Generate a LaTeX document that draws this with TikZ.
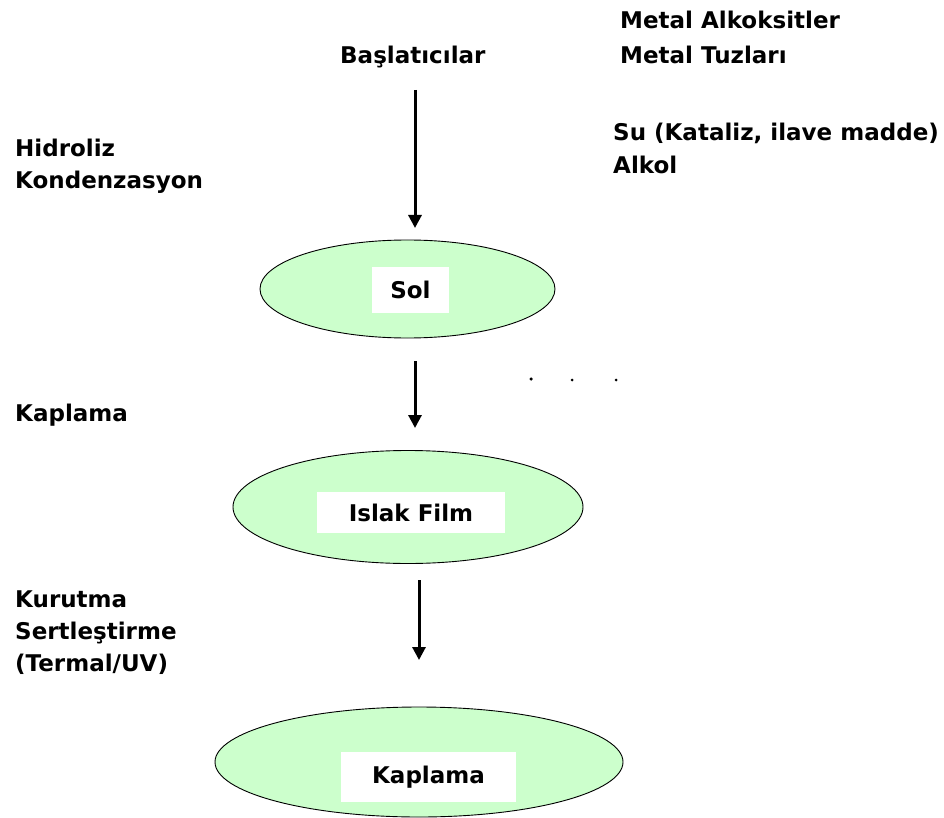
\documentclass[tikz,border=0pt]{standalone}
\usepackage{fontspec}
\setmainfont{DejaVu Sans}
\usetikzlibrary{shapes.geometric,arrows.meta}
\definecolor{solgreen}{HTML}{CCFFCC}
\begin{document}
\begin{tikzpicture}[x=1pt,y=-1pt,
  blob/.style={ellipse,draw=black,line width=0.9pt,fill=solgreen,inner sep=0pt},
  tag/.style={fill=white,inner sep=0pt,font=\fontsize{23}{28}\selectfont\bfseries},
  lbl/.style={anchor=base west,inner sep=0pt,font=\fontsize{23}{28}\selectfont\bfseries},
  flow/.style={line width=3pt,-{Triangle[width=13pt,length=13pt]}},
  dotmark/.style={circle,fill=black,inner sep=0pt,minimum size=3pt}]
\useasboundingbox (0,0) rectangle (944,818);
% ellipses
\node[blob,minimum width=295pt,minimum height=98pt] (sol) at (407.5,289) {};
\node[blob,minimum width=350pt,minimum height=113pt] (islak) at (408,507) {};
\node[blob,minimum width=408pt,minimum height=110pt] (kap) at (419,762) {};
% white labels
\node[tag,minimum width=77pt,minimum height=46pt] (soltag) at (410.5,290) {Sol};
\node[tag,minimum width=188pt,minimum height=41pt] (islaktag) at (411,512.5) {Islak Film};
\node[tag,minimum width=175pt,minimum height=50pt] (kaptag) at (428.5,777) {Kaplama};
% arrows
\coordinate (a1s) at (415,90);  \coordinate (a1e) at (415,228);
\coordinate (a2s) at (415,361); \coordinate (a2e) at (415,428);
\coordinate (a3s) at (419,580); \coordinate (a3e) at (419,660);
\draw[flow] (a1s) -- (a1e);
\draw[flow] (a2s) -- (a2e);
\draw[flow] (a3s) -- (a3e);
% dots
\node[dotmark,minimum size=3.5pt] (d1) at (531,379) {};
\node[dotmark] (d2) at (572,380) {};
\node[dotmark] (d3) at (616,380) {};
% text labels
\node[lbl] (basl) at (340,64) {Başlatıcılar};
\node[lbl] (malk) at (620,29) {Metal Alkoksitler};
\node[lbl] (mtuz) at (620,64) {Metal Tuzları};
\node[lbl] (su) at (613,141) {Su (Kataliz, ilave madde)};
\node[lbl] (alk) at (613,174) {Alkol};
\node[lbl] (hid) at (15,157) {Hidroliz};
\node[lbl] (kon) at (15,189) {Kondenzasyon};
\node[lbl] (kapl) at (15,421) {Kaplama};
\node[lbl] (kur) at (15,607) {Kurutma};
\node[lbl] (ser) at (15,639) {Sertleştirme};
\node[lbl] (ter) at (15,671) {(Termal/UV)};
\end{tikzpicture}
\end{document}
